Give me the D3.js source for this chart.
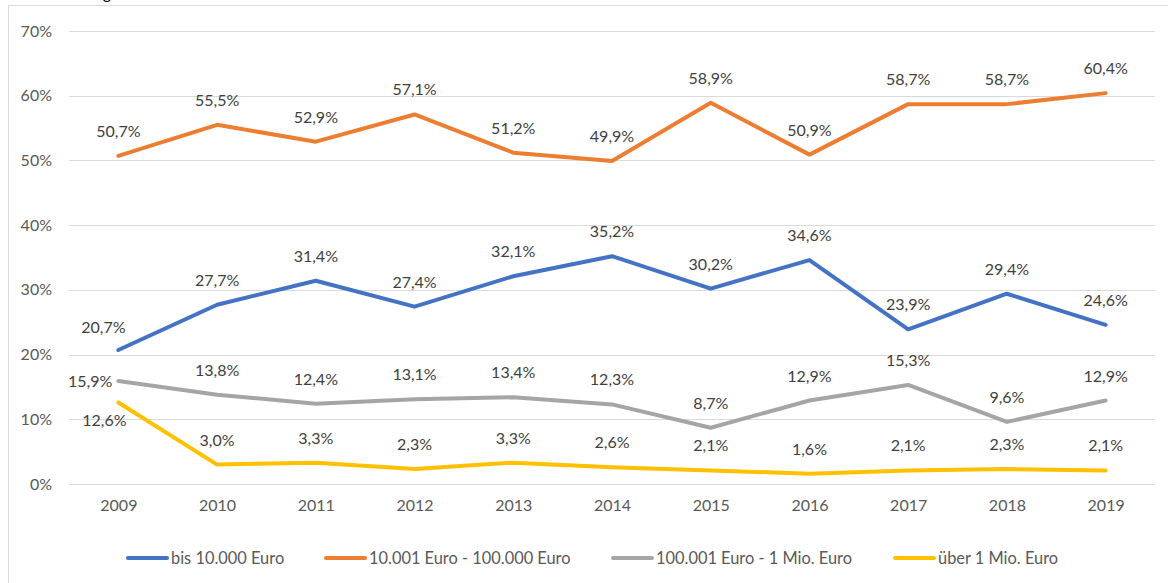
<!DOCTYPE html>
<html lang="de">
<head>
  <meta charset="UTF-8">
  <title>Anteile nach Größenklassen 2009-2019</title>
  <script src="https://d3js.org/d3.v7.min.js"></script>
  <style>
    body {
      margin: 0;
      font-family: Lato, sans-serif;
      background: white;
    }
    svg text {
      font-family: Lato, sans-serif;
    }
  </style>
</head>
<body>
  <svg width="1168" height="583"></svg>
  <script>
    // Data
    const years = ["2009", "2010", "2011", "2012", "2013", "2014", "2015", "2016", "2017", "2018", "2019"];
    const seriesNames = ["bis 10.000 Euro", "10.001 Euro - 100.000 Euro", "100.001 Euro - 1 Mio. Euro", "über 1 Mio. Euro"];
    const bis10k = [20.7, 27.7, 31.4, 27.4, 32.1, 35.2, 30.2, 34.6, 23.9, 29.4, 24.6];
    const bis100k = [50.7, 55.5, 52.9, 57.1, 51.2, 49.9, 58.9, 50.9, 58.7, 58.7, 60.4];
    const bis1mio = [15.9, 13.8, 12.4, 13.1, 13.4, 12.3, 8.7, 12.9, 15.3, 9.6, 12.9];
    const ueber1mio = [12.6, 3.0, 3.3, 2.3, 3.3, 2.6, 2.1, 1.6, 2.1, 2.3, 2.1];
    const yTicks = [0, 10, 20, 30, 40, 50, 60, 70];

    const colors = ["#4472C4", "#ED7D31", "#A5A5A5", "#FFC000"];
    const allValues = [bis10k, bis100k, bis1mio, ueber1mio];

    // label placement tweaks (series index - point index)
    const labelPlace = { "0-0": "aboveLeft", "2-0": "left", "3-0": "belowLeft" };

    const svg = d3.select("svg");
    const plotLeft = 69, plotRight = 1155, plotTop = 31, plotBottom = 484;

    // outer frame (cut off on the right / bottom like the source)
    svg.append("rect")
      .attr("x", 8.5).attr("y", 5.5)
      .attr("width", 1200).attr("height", 620)
      .attr("fill", "none").attr("stroke", "#d9d9d9");

    // remnant of the title above the frame
    svg.append("text")
      .attr("x", 107).attr("y", -1)
      .attr("text-anchor", "middle")
      .attr("font-size", 16).attr("fill", "#000")
      .text("g");

    const x = d3.scalePoint().domain(years).range([plotLeft, plotRight]).padding(0.5);
    const y = d3.scaleLinear().domain([0, 70]).range([plotBottom, plotTop]);

    // gridlines
    svg.append("g")
      .selectAll("line")
      .data(yTicks)
      .join("line")
      .attr("x1", plotLeft).attr("x2", plotRight)
      .attr("y1", d => Math.round(y(d)) + 0.5)
      .attr("y2", d => Math.round(y(d)) + 0.5)
      .attr("stroke", "#d9d9d9").attr("stroke-width", 1);

    // y axis labels
    const yAxis = svg.append("g")
      .attr("transform", `translate(${plotLeft},0)`)
      .call(d3.axisLeft(y).tickValues(yTicks).tickSize(0).tickPadding(17).tickFormat(d => d + "%"));
    yAxis.select(".domain").remove();
    yAxis.selectAll("text").attr("font-size", 16).attr("fill", "#595959");

    // x axis labels
    const xAxis = svg.append("g")
      .attr("transform", `translate(0,${plotBottom})`)
      .call(d3.axisBottom(x).tickSize(0).tickPadding(16));
    xAxis.select(".domain").remove();
    xAxis.selectAll("text").attr("font-size", 16).attr("fill", "#595959");

    const line = d3.line()
      .x((d, i) => x(years[i]))
      .y(d => y(d));

    const fmt = v => v.toFixed(1).replace(".", ",") + "%";

    allValues.forEach((vals, s) => {
      svg.append("path")
        .datum(vals)
        .attr("d", line)
        .attr("fill", "none")
        .attr("stroke", colors[s])
        .attr("stroke-width", 4)
        .attr("stroke-linejoin", "round")
        .attr("stroke-linecap", "round");
    });

    allValues.forEach((vals, s) => {
      svg.append("g")
        .selectAll("text")
        .data(vals)
        .join("text")
        .attr("font-size", 16)
        .attr("fill", "#404040")
        .each(function (d, i) {
          const px = x(years[i]), py = y(d);
          const place = labelPlace[s + "-" + i] || "above";
          const t = d3.select(this);
          if (place === "left") {
            t.attr("x", px - 6).attr("y", py + 6).attr("text-anchor", "end");
          } else if (place === "belowLeft") {
            t.attr("x", px - 14).attr("y", py + 24).attr("text-anchor", "middle");
          } else if (place === "aboveLeft") {
            t.attr("x", px - 15).attr("y", py - 17).attr("text-anchor", "middle");
          } else {
            t.attr("x", px).attr("y", py - 19).attr("text-anchor", "middle");
          }
        })
        .text(d => fmt(d));
    });

    // legend
    const legendItems = [
      { name: seriesNames[0], x0: 126 },
      { name: seriesNames[1], x0: 324 },
      { name: seriesNames[2], x0: 611 },
      { name: seriesNames[3], x0: 893 }
    ];
    const legend = svg.append("g");
    legendItems.forEach((it, i) => {
      legend.append("line")
        .attr("x1", it.x0 + 2).attr("x2", it.x0 + 41)
        .attr("y1", 558).attr("y2", 558)
        .attr("stroke", colors[i]).attr("stroke-width", 4)
        .attr("stroke-linecap", "round");
      legend.append("text")
        .attr("x", it.x0 + 45).attr("y", 564)
        .attr("font-size", 16.4).attr("fill", "#595959")
        .text(it.name);
    });
  </script>
</body>
</html>
